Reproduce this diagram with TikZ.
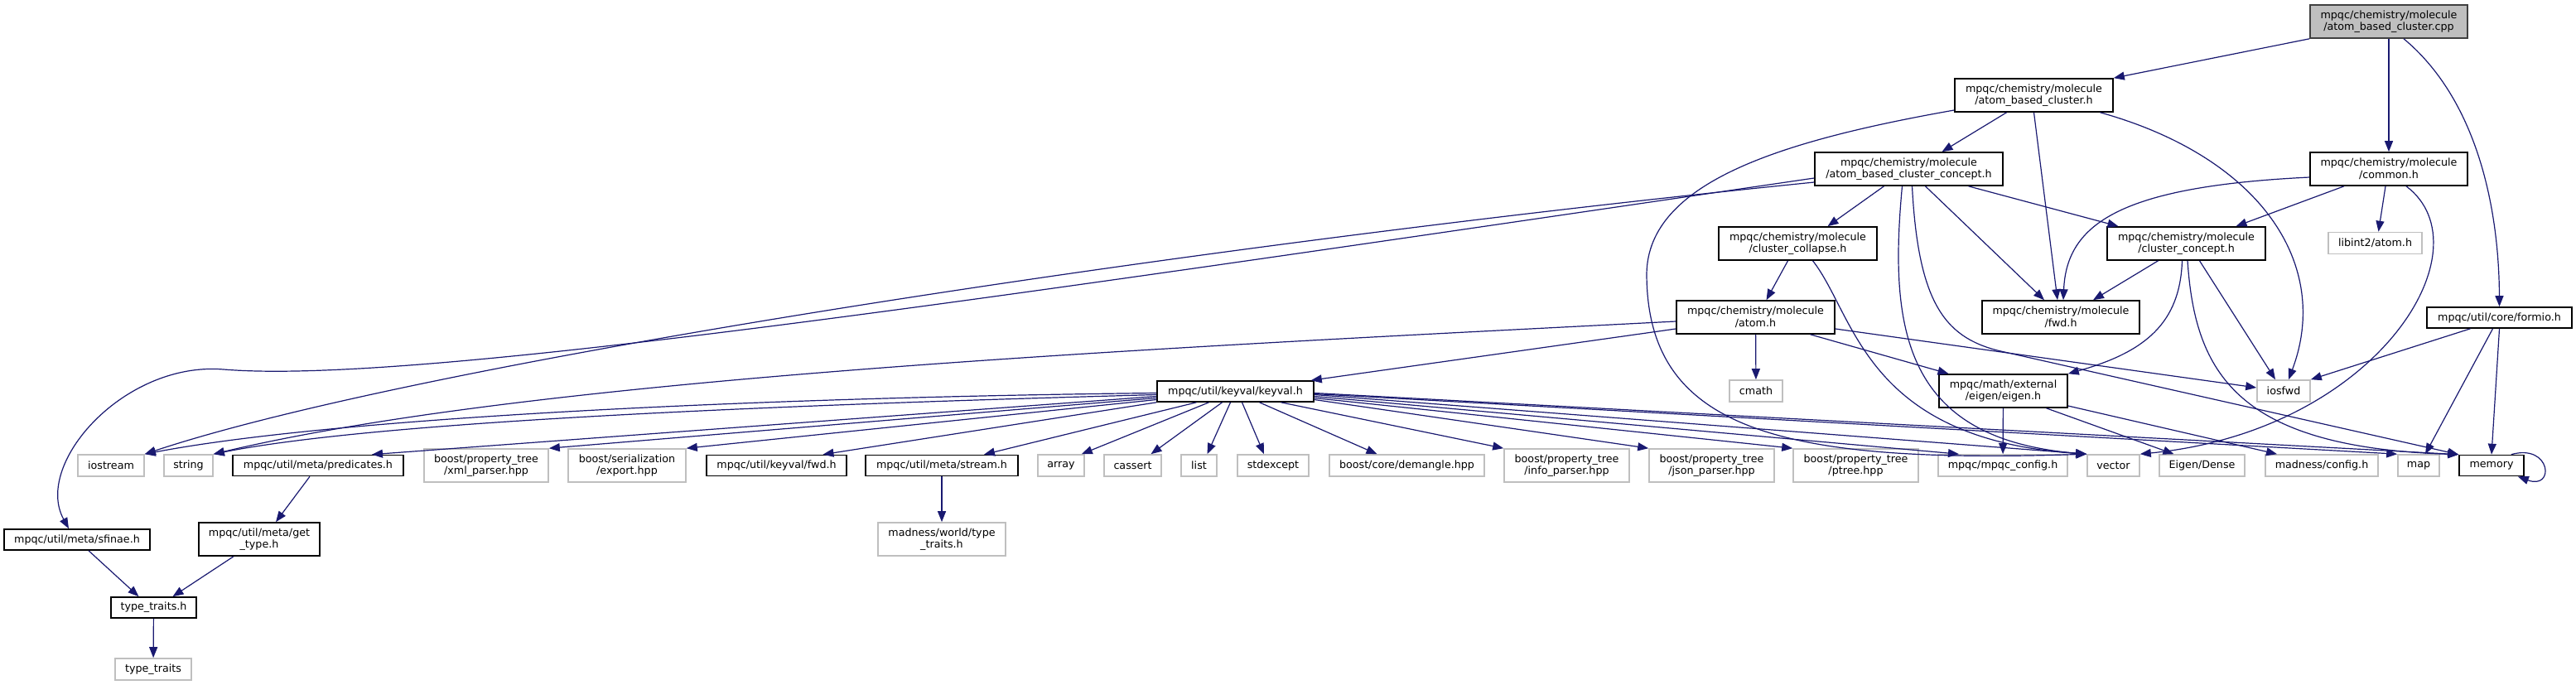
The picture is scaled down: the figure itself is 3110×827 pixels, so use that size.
\documentclass[tikz,border=0pt]{standalone}
\usepackage{fontspec}
\setmainfont{DejaVu Sans}
\usepackage{tikz}
\usetikzlibrary{arrows.meta}

\definecolor{edgeblue}{HTML}{191970}
\definecolor{boxgray}{HTML}{BFBFBF}

\begin{document}
\begin{tikzpicture}[x=1pt,y=-1pt,
  every node/.style={font=\fontsize{12.7}{14.5}\selectfont, inner sep=0pt, align=center},
  hdr/.style={rectangle, draw=black, line width=1.6pt, fill=white, minimum height=25pt},
  sys/.style={rectangle, draw=boxgray, line width=1.6pt, fill=white, minimum height=26pt},
  two/.style={minimum height=40pt},
  src/.style={hdr, draw=black!75, fill=boxgray},
  dep/.style={-{Triangle[length=13pt,width=10pt]}, draw=edgeblue, line width=1.2pt}]
\useasboundingbox (0,0) rectangle (3110,827);

\node[src, two, minimum width=190pt] (root) at (2884,26) {mpqc/chemistry/molecule\\/atom\_based\_cluster.cpp};
\node[hdr, two, minimum width=191pt] (abch) at (2455.5,115) {mpqc/chemistry/molecule\\/atom\_based\_cluster.h};
\node[hdr, two, minimum width=227pt] (abcch) at (2304.5,204) {mpqc/chemistry/molecule\\/atom\_based\_cluster\_concept.h};
\node[hdr, two, minimum width=190pt] (commonh) at (2884,204) {mpqc/chemistry/molecule\\/common.h};
\node[hdr, two, minimum width=191pt] (collapseh) at (2170.5,294) {mpqc/chemistry/molecule\\/cluster\_collapse.h};
\node[hdr, two, minimum width=191pt] (concepth) at (2639.5,294) {mpqc/chemistry/molecule\\/cluster\_concept.h};
\node[sys, minimum width=113pt] (libint) at (2867.5,293.5) {libint2/atom.h};
\node[hdr, two, minimum width=191pt] (atomh) at (2119.5,383) {mpqc/chemistry/molecule\\/atom.h};
\node[hdr, two, minimum width=190pt] (fwdh) at (2488,383) {mpqc/chemistry/molecule\\/fwd.h};
\node[hdr, minimum width=175pt] (formio) at (3017.5,383.5) {mpqc/util/core/formio.h};
\node[hdr, minimum width=189pt] (keyval) at (1491.5,472.5) {mpqc/util/keyval/keyval.h};
\node[sys, minimum width=64pt] (cmath) at (2120,472) {cmath};
\node[hdr, two, minimum width=155pt] (eigenh) at (2418.5,472) {mpqc/math/external\\/eigen/eigen.h};
\node[sys, minimum width=64pt] (iosfwd) at (2757,472) {iosfwd};

\node[sys, minimum width=80pt] (iostream) at (134,562) {iostream};
\node[sys, minimum width=59pt] (string) at (227.5,562) {string};
\node[hdr, minimum width=206pt] (predicates) at (384,562) {mpqc/util/meta/predicates.h};
\node[sys, two, minimum width=150pt] (xml) at (587,562) {boost/property\_tree\\/xml\_parser.hpp};
\node[sys, two, minimum width=142pt] (export) at (757,562) {boost/serialization\\/export.hpp};
\node[hdr, minimum width=169pt] (kvfwd) at (937.5,562) {mpqc/util/keyval/fwd.h};
\node[hdr, minimum width=184pt] (stream) at (1137,562) {mpqc/util/meta/stream.h};
\node[sys, minimum width=56pt] (array) at (1281,562) {array};
\node[sys, minimum width=69pt] (cassert) at (1367.5,562) {cassert};
\node[sys, minimum width=43pt] (list) at (1447.5,562) {list};
\node[sys, minimum width=86pt] (stdexcept) at (1537,562) {stdexcept};
\node[sys, minimum width=187pt] (demangle) at (1698.5,562) {boost/core/demangle.hpp};
\node[sys, two, minimum width=151pt] (info) at (1891.5,562) {boost/property\_tree\\/info\_parser.hpp};
\node[sys, two, minimum width=151pt] (json) at (2066.5,562) {boost/property\_tree\\/json\_parser.hpp};
\node[sys, two, minimum width=151pt] (ptree) at (2240.5,562) {boost/property\_tree\\/ptree.hpp};
\node[sys, minimum width=156pt] (mpqccfg) at (2418,562) {mpqc/mpqc\_config.h};
\node[sys, minimum width=63pt] (vector) at (2551.5,562) {vector};
\node[sys, minimum width=103pt] (eigendense) at (2658.5,562) {Eigen/Dense};
\node[sys, minimum width=136pt] (madcfg) at (2803,562) {madness/config.h};
\node[sys, minimum width=50pt] (map) at (2920,562) {map};
\node[hdr, minimum width=78pt] (memory) at (3008,562) {memory};

\node[hdr, minimum width=176pt] (sfinae) at (93,651.5) {mpqc/util/meta/sfinae.h};
\node[hdr, two, minimum width=146pt] (gettype) at (313,651) {mpqc/util/meta/get\\\_type.h};
\node[sys, two, minimum width=154pt] (madworld) at (1137,651) {madness/world/type\\\_traits.h};
\node[hdr, minimum width=103pt] (traitsh) at (185.5,733.5) {type\_traits.h};
\node[sys, minimum width=92pt] (traits) at (185,808) {type\_traits};

\draw[dep] (root.south west) -- (abch.north east);
\draw[dep] (root) -- (commonh);
\draw[dep] ([xshift=18pt]root.south) .. controls (2990,120) and (3017,250) .. (formio.north);

\draw[dep] ([xshift=-33pt]abch.south) -- ([xshift=40pt]abcch.north);
\draw[dep] (abch.south) -- ([xshift=-4pt]fwdh.north);
\draw[dep] ([xshift=80pt]abch.south) .. controls (2730,190) and (2815,320) .. ([xshift=6pt]iosfwd.north);
\draw[dep] ([yshift=-18pt]abch.west) .. controls (2150,170) and (1990,220) .. (1988,330) .. controls (1988,520) and (2150,560) .. (vector.north west);

\draw[dep] ([xshift=-30pt]abcch.south) -- ([xshift=36pt]collapseh.north);
\draw[dep] ([xshift=72pt]abcch.south) -- ([xshift=-82pt]concepth.north);
\draw[dep] ([xshift=20pt]abcch.south) -- ([xshift=-20pt]fwdh.north);
\draw[dep] ([xshift=4pt]abcch.south) .. controls (2316,370) and (2350,410) .. (2420,425) -- (memory.north west);
\draw[dep] ([xshift=-8pt]abcch.south) .. controls (2280,400) and (2300,530) .. (vector.north west);
\draw[dep] ([yshift=-11pt]abcch.west) .. controls (1200,360) and (500,465) .. (270,446) .. controls (150,436) and (40,560) .. ([xshift=-10pt]sfinae.north);
\draw[dep] ([yshift=-16pt]abcch.west) .. controls (1400,300) and (500,440) .. (iostream.north east);

\draw[dep] ([xshift=-54pt]commonh.south) -- ([xshift=60pt]concepth.north);
\draw[dep] ([xshift=-4pt]commonh.south) -- ([xshift=4pt]libint.north);
\draw[dep] ([yshift=-10pt]commonh.west) .. controls (2560,225) and (2495,270) .. ([xshift=3pt]fwdh.north);
\draw[dep] ([xshift=21pt]commonh.south) .. controls (3005,300) and (2870,520) .. (vector.north east);

\draw[dep] ([xshift=-12pt]collapseh.south) -- ([xshift=13pt]atomh.north);
\draw[dep] ([xshift=18pt]collapseh.south) .. controls (2240,380) and (2250,530) .. (vector.north west);

\draw[dep] ([xshift=-34pt]concepth.south) -- ([xshift=39pt]fwdh.north);
\draw[dep] ([xshift=16pt]concepth.south) -- ([xshift=-10pt]iosfwd.north);
\draw[dep] ([xshift=-5pt]concepth.south) .. controls (2632,390) and (2590,425) .. (eigenh.north east);
\draw[dep] ([xshift=1.5pt]concepth.south) .. controls (2650,450) and (2700,540) .. (memory.north west);

\draw[dep] ([yshift=-14pt]atomh.west) -- ([xshift=-4pt]keyval.north east);
\draw[dep] ([yshift=-5pt]atomh.west) .. controls (1400,420) and (650,455) .. (string.north east);
\draw[dep] (atomh) -- (cmath);
\draw[dep] ([xshift=66pt]atomh.south) -- ([xshift=-66pt]eigenh.north);
\draw[dep] ([yshift=-14pt]atomh.east) -- ([yshift=4pt]iosfwd.west);

\draw[dep] ([xshift=-35pt]formio.south) -- (iosfwd.north east);
\draw[dep] ([xshift=-8pt]formio.south) -- ([xshift=8pt]map.north);
\draw[dep] (formio.south) -- (memory.north);

\draw[dep] (eigenh) -- (mpqccfg);
\draw[dep] ([xshift=52pt]eigenh.south) -- ([xshift=-34pt]eigendense.north);
\draw[dep] ([yshift=-18pt]eigenh.east) -- ([xshift=-54pt]madcfg.north);

\draw[dep] ([yshift=-2pt]keyval.west) .. controls (900,480) and (400,505) .. (iostream.north east);
\draw[dep] ([yshift=-4pt]keyval.west) .. controls (900,490) and (450,510) .. (string.north east);
\draw[dep] ([yshift=-6pt]keyval.west) -- ([xshift=65pt]predicates.north);
\draw[dep] ([yshift=-8pt]keyval.west) -- (xml.north east);
\draw[dep] ([yshift=-10pt]keyval.west) -- (export.north east);
\draw[dep] (keyval.south west) -- ([xshift=56pt]kvfwd.north);
\draw[dep] ([xshift=-47pt]keyval.south) -- ([xshift=51pt]stream.north);
\draw[dep] ([xshift=-32pt]keyval.south) -- ([xshift=-4pt]array.north east);
\draw[dep] ([xshift=-16pt]keyval.south) -- ([xshift=22pt]cassert.north);
\draw[dep] ([xshift=-6pt]keyval.south) -- ([xshift=10pt]list.north);
\draw[dep] ([xshift=8pt]keyval.south) -- ([xshift=-11pt]stdexcept.north);
\draw[dep] ([xshift=29pt]keyval.south) -- ([xshift=-36pt]demangle.north);
\draw[dep] ([xshift=55pt]keyval.south) -- (info.north west);
\draw[dep] ([yshift=-10pt]keyval.east) -- (json.north west);
\draw[dep] ([yshift=-8pt]keyval.east) -- (ptree.north west);
\draw[dep] ([yshift=-6pt]keyval.east) -- ([xshift=-53pt]mpqccfg.north);
\draw[dep] ([yshift=-4pt]keyval.east) -- (vector.north west);
\draw[dep] ([yshift=-3pt]keyval.east) -- (map.north west);
\draw[dep] ([yshift=-2pt]keyval.east) -- (memory.north west);

\draw[dep] ([xshift=-16pt]memory.north east) .. controls (3080,535) and (3085,592) .. ([xshift=-8pt]memory.south east);

\draw[dep] ([xshift=-10pt]predicates.south) -- ([xshift=20pt]gettype.north);
\draw[dep] ([xshift=-31pt]gettype.south) -- ([xshift=23pt]traitsh.north);
\draw[dep] ([xshift=14pt]sfinae.south) -- ([xshift=-18pt]traitsh.north);
\draw[dep] (traitsh) -- (traits);
\draw[dep] (stream) -- (madworld);
\end{tikzpicture}
\end{document}
